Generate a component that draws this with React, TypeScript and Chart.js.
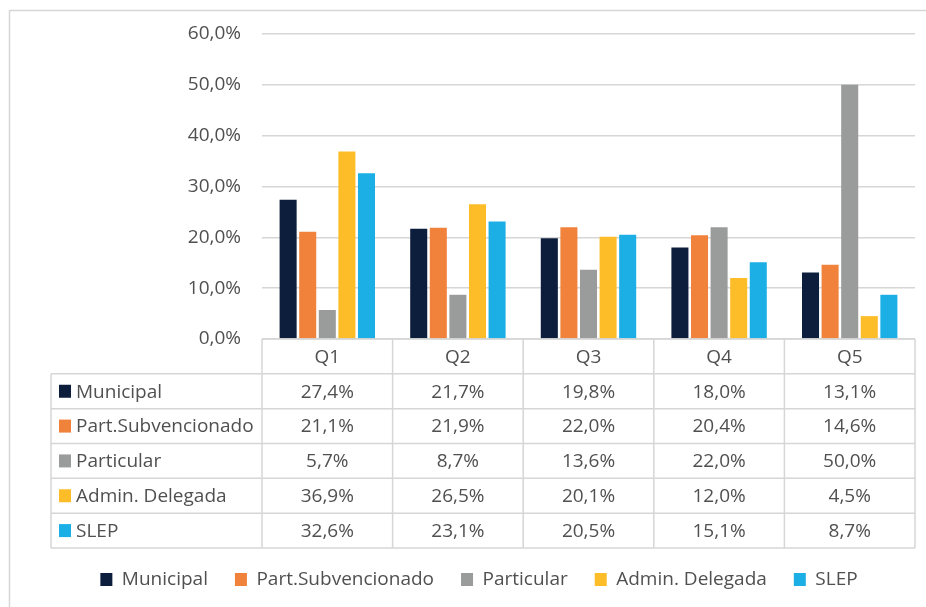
import React, { useEffect, useRef } from "react";
import { Chart, registerables } from "chart.js";

Chart.register(...registerables);

const categories = ["Q1", "Q2", "Q3", "Q4", "Q5"];
const seriesNames = ["Municipal", "Part.Subvencionado", "Particular", "Admin. Delegada", "SLEP"];
const municipal = [27.4, 21.7, 19.8, 18.0, 13.1];
const partSubvencionado = [21.1, 21.9, 22.0, 20.4, 14.6];
const particular = [5.7, 8.7, 13.6, 22.0, 50.0];
const adminDelegada = [36.9, 26.5, 20.1, 12.0, 4.5];
const slep = [32.6, 23.1, 20.5, 15.1, 8.7];
const seriesColors = ["#0C1E3C", "#F0823C", "#9A9C9C", "#FDBD29", "#1CAFE5"];
const yTicks = [0, 10, 20, 30, 40, 50, 60];

const FONT = "'Open Sans', sans-serif";
const FONT_SIZE = 19;
const TEXT = "#505050";
const LINE = "#d6d6d6";

const fmt = (v: number) => v.toFixed(1).replace(".", ",") + "%";

const PAD_LEFT = 43;
const TABLE_LEFT = 51;
const TABLE_HEIGHT = 209;

const frameAndTable = {
  id: "frameAndTable",
  beforeDraw(chart: any) {
    const ctx = chart.ctx;
    ctx.save();
    ctx.fillStyle = "#ffffff";
    ctx.fillRect(0, 0, chart.width, chart.height);
    ctx.strokeStyle = LINE;
    ctx.lineWidth = 1.5;
    ctx.beginPath();
    ctx.moveTo(9.5, chart.height);
    ctx.lineTo(9.5, 10.5);
    ctx.lineTo(chart.width, 10.5);
    ctx.stroke();
    ctx.restore();
  },
  afterDraw(chart: any) {
    const ctx = chart.ctx;
    const x = chart.scales.x;
    const area = chart.chartArea;
    const top = area.bottom;
    const rowH = TABLE_HEIGHT / 6;
    const left = area.left;
    const right = area.right;
    const colW = (right - left) / categories.length;
    const datasets = chart.data.datasets;
    ctx.save();
    ctx.strokeStyle = LINE;
    ctx.lineWidth = 1.5;
    ctx.beginPath();
    ctx.moveTo(left, top);
    ctx.lineTo(right, top);
    for (let r = 1; r <= 6; r++) {
      const y = top + r * rowH;
      ctx.moveTo(TABLE_LEFT, y);
      ctx.lineTo(right, y);
    }
    for (let c = 0; c <= categories.length; c++) {
      const cx = left + c * colW;
      ctx.moveTo(cx, top);
      ctx.lineTo(cx, top + 6 * rowH);
    }
    ctx.moveTo(TABLE_LEFT, top + rowH);
    ctx.lineTo(TABLE_LEFT, top + 6 * rowH);
    ctx.stroke();

    ctx.fillStyle = TEXT;
    ctx.font = `${FONT_SIZE}px ${FONT}`;
    ctx.textBaseline = "middle";
    ctx.textAlign = "center";
    categories.forEach((c, i) => {
      ctx.fillText(c, x.getPixelForValue(i), top + rowH / 2 + 1);
    });
    datasets.forEach((ds: any, r: number) => {
      const cy = top + (r + 1.5) * rowH;
      ctx.fillStyle = ds.backgroundColor;
      ctx.fillRect(59, cy - 6.5, 12, 13);
      ctx.fillStyle = TEXT;
      ctx.textAlign = "left";
      ctx.fillText(ds.label, 76, cy + 1);
      ctx.textAlign = "center";
      ds.data.forEach((v: number, i: number) => {
        ctx.fillText(fmt(v), x.getPixelForValue(i), cy + 1);
      });
    });
    ctx.restore();
  },
};

export default function App() {
  const ref = useRef<HTMLCanvasElement>(null);
  useEffect(() => {
    if (!ref.current) return;
    const allSeries = [municipal, partSubvencionado, particular, adminDelegada, slep];
    const chart = new Chart(ref.current, {
      type: "bar",
      data: {
        labels: categories,
        datasets: allSeries.map((d, i) => ({
          label: seriesNames[i],
          data: d,
          backgroundColor: seriesColors[i],
          borderWidth: 0,
          categoryPercentage: 0.75,
          barPercentage: 0.87,
        })),
      },
      options: {
        responsive: true,
        maintainAspectRatio: false,
        animation: false,
        layout: { padding: { left: PAD_LEFT, right: 11, top: 34, bottom: 8 } },
        plugins: {
          tooltip: { enabled: false },
          legend: {
            position: "bottom",
            labels: {
              boxWidth: 12,
              boxHeight: 13,
              padding: 27,
              color: TEXT,
              font: { family: FONT, size: FONT_SIZE },
            },
          },
        },
        scales: {
          x: {
            grid: { display: false },
            border: { display: false },
            ticks: { display: false },
            afterFit: (s: any) => {
              s.height = TABLE_HEIGHT - 5;
            },
          },
          y: {
            min: 0,
            max: 60,
            afterBuildTicks: (s: any) => {
              s.ticks = yTicks.map((v) => ({ value: v }));
            },
            grid: { color: LINE, lineWidth: 1.5, drawTicks: false },
            border: { display: false },
            ticks: {
              padding: 21,
              color: TEXT,
              font: { family: FONT, size: FONT_SIZE },
              callback: (v: any) => fmt(Number(v)),
            },
            afterFit: (s: any) => {
              s.width = 262 - PAD_LEFT;
            },
          },
        },
      },
      plugins: [frameAndTable],
    });
    return () => chart.destroy();
  }, []);
  return (
    <div style={{ position: "fixed", left: 0, top: 0, width: 926, height: 607, background: "#fff" }}>
      <canvas ref={ref} style={{ display: "block" }} />
    </div>
  );
}
